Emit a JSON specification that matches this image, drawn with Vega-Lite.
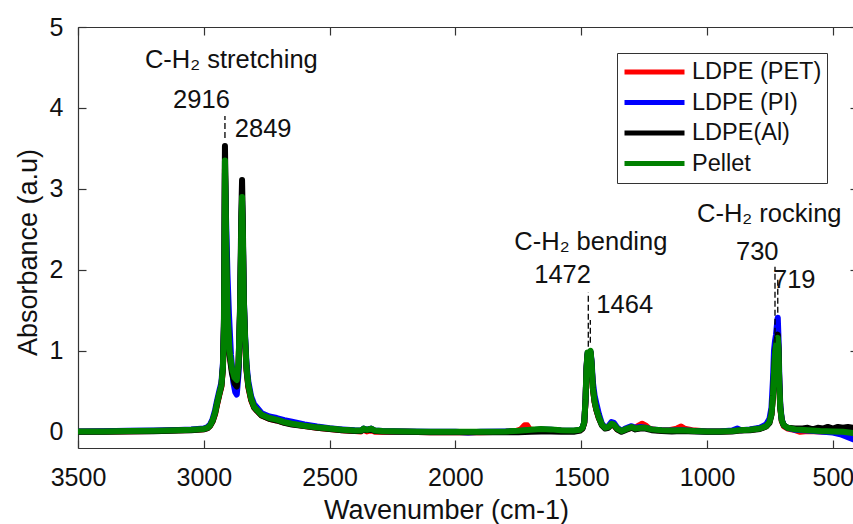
{
  "$schema": "https://vega.github.io/schema/vega-lite/v6.json",
  "width": 775,
  "height": 421,
  "autosize": {"type": "none"},
  "padding": {"left": 78, "top": 27, "right": 0, "bottom": 76},
  "background": "white",
  "config": {
    "view": {"stroke": null},
    "font": "Liberation Sans",
    "axis": {
      "grid": false,
      "domainColor": "#333333",
      "domainWidth": 1.2,
      "tickColor": "#333333",
      "tickWidth": 1.2,
      "labelColor": "#111111",
      "titleColor": "#111111",
      "labelFont": "Liberation Sans",
      "titleFont": "Liberation Sans",
      "titleFontWeight": "normal"
    }
  },
  "datasets": {
    "spectra": [
      {"sample":"LDPE (PET)","wn":3500,"abs":0.0},{"sample":"LDPE (PET)","wn":3400,"abs":0.003},{"sample":"LDPE (PET)","wn":3300,"abs":0.008},{"sample":"LDPE (PET)","wn":3200,"abs":0.01},{"sample":"LDPE (PET)","wn":3100,"abs":0.018},{"sample":"LDPE (PET)","wn":3050,"abs":0.022},{"sample":"LDPE (PET)","wn":3000,"abs":0.032},{"sample":"LDPE (PET)","wn":2985,"abs":0.045},{"sample":"LDPE (PET)","wn":2975,"abs":0.075},{"sample":"LDPE (PET)","wn":2965,"abs":0.13},{"sample":"LDPE (PET)","wn":2955,"abs":0.22},{"sample":"LDPE (PET)","wn":2947,"abs":0.34},{"sample":"LDPE (PET)","wn":2938,"abs":0.46},{"sample":"LDPE (PET)","wn":2930,"abs":0.56},{"sample":"LDPE (PET)","wn":2924,"abs":0.78},{"sample":"LDPE (PET)","wn":2920,"abs":1.25},{"sample":"LDPE (PET)","wn":2918,"abs":2.1},{"sample":"LDPE (PET)","wn":2916,"abs":3.25},{"sample":"LDPE (PET)","wn":2914,"abs":2.9},{"sample":"LDPE (PET)","wn":2911,"abs":2.2},{"sample":"LDPE (PET)","wn":2906,"abs":1.45},{"sample":"LDPE (PET)","wn":2898,"abs":0.97},{"sample":"LDPE (PET)","wn":2888,"abs":0.75},{"sample":"LDPE (PET)","wn":2878,"abs":0.64},{"sample":"LDPE (PET)","wn":2869,"abs":0.6},{"sample":"LDPE (PET)","wn":2862,"abs":0.82},{"sample":"LDPE (PET)","wn":2856,"abs":1.45},{"sample":"LDPE (PET)","wn":2851,"abs":2.4},{"sample":"LDPE (PET)","wn":2848,"abs":2.8},{"sample":"LDPE (PET)","wn":2845,"abs":2.4},{"sample":"LDPE (PET)","wn":2841,"abs":1.55},{"sample":"LDPE (PET)","wn":2836,"abs":1.1},{"sample":"LDPE (PET)","wn":2830,"abs":0.75},{"sample":"LDPE (PET)","wn":2823,"abs":0.55},{"sample":"LDPE (PET)","wn":2812,"abs":0.39},{"sample":"LDPE (PET)","wn":2800,"abs":0.3},{"sample":"LDPE (PET)","wn":2789,"abs":0.26},{"sample":"LDPE (PET)","wn":2770,"abs":0.2},{"sample":"LDPE (PET)","wn":2740,"abs":0.16},{"sample":"LDPE (PET)","wn":2710,"abs":0.14},{"sample":"LDPE (PET)","wn":2680,"abs":0.115},{"sample":"LDPE (PET)","wn":2650,"abs":0.095},{"sample":"LDPE (PET)","wn":2600,"abs":0.07},{"sample":"LDPE (PET)","wn":2550,"abs":0.05},{"sample":"LDPE (PET)","wn":2500,"abs":0.035},{"sample":"LDPE (PET)","wn":2450,"abs":0.02},{"sample":"LDPE (PET)","wn":2400,"abs":0.01},{"sample":"LDPE (PET)","wn":2375,"abs":0.005},{"sample":"LDPE (PET)","wn":2365,"abs":0.03},{"sample":"LDPE (PET)","wn":2352,"abs":0.005},{"sample":"LDPE (PET)","wn":2335,"abs":0.02},{"sample":"LDPE (PET)","wn":2320,"abs":0.0},{"sample":"LDPE (PET)","wn":2290,"abs":0.0},{"sample":"LDPE (PET)","wn":2200,"abs":0.0},{"sample":"LDPE (PET)","wn":2100,"abs":-0.005},{"sample":"LDPE (PET)","wn":2000,"abs":-0.005},{"sample":"LDPE (PET)","wn":1900,"abs":-0.005},{"sample":"LDPE (PET)","wn":1800,"abs":0.0},{"sample":"LDPE (PET)","wn":1760,"abs":0.01},{"sample":"LDPE (PET)","wn":1740,"abs":0.03},{"sample":"LDPE (PET)","wn":1725,"abs":0.08},{"sample":"LDPE (PET)","wn":1715,"abs":0.08},{"sample":"LDPE (PET)","wn":1705,"abs":0.03},{"sample":"LDPE (PET)","wn":1680,"abs":0.02},{"sample":"LDPE (PET)","wn":1640,"abs":0.02},{"sample":"LDPE (PET)","wn":1600,"abs":0.015},{"sample":"LDPE (PET)","wn":1560,"abs":0.01},{"sample":"LDPE (PET)","wn":1530,"abs":0.01},{"sample":"LDPE (PET)","wn":1505,"abs":0.02},{"sample":"LDPE (PET)","wn":1495,"abs":0.045},{"sample":"LDPE (PET)","wn":1488,"abs":0.11},{"sample":"LDPE (PET)","wn":1483,"abs":0.38},{"sample":"LDPE (PET)","wn":1479,"abs":0.78},{"sample":"LDPE (PET)","wn":1475,"abs":0.96},{"sample":"LDPE (PET)","wn":1471,"abs":0.95},{"sample":"LDPE (PET)","wn":1467,"abs":0.96},{"sample":"LDPE (PET)","wn":1463,"abs":0.98},{"sample":"LDPE (PET)","wn":1459,"abs":0.84},{"sample":"LDPE (PET)","wn":1454,"abs":0.54},{"sample":"LDPE (PET)","wn":1447,"abs":0.37},{"sample":"LDPE (PET)","wn":1440,"abs":0.27},{"sample":"LDPE (PET)","wn":1430,"abs":0.17},{"sample":"LDPE (PET)","wn":1418,"abs":0.09},{"sample":"LDPE (PET)","wn":1405,"abs":0.05},{"sample":"LDPE (PET)","wn":1392,"abs":0.06},{"sample":"LDPE (PET)","wn":1380,"abs":0.09},{"sample":"LDPE (PET)","wn":1370,"abs":0.08},{"sample":"LDPE (PET)","wn":1357,"abs":0.03},{"sample":"LDPE (PET)","wn":1340,"abs":0.01},{"sample":"LDPE (PET)","wn":1325,"abs":0.03},{"sample":"LDPE (PET)","wn":1300,"abs":0.05},{"sample":"LDPE (PET)","wn":1285,"abs":0.05},{"sample":"LDPE (PET)","wn":1270,"abs":0.08},{"sample":"LDPE (PET)","wn":1258,"abs":0.1},{"sample":"LDPE (PET)","wn":1245,"abs":0.08},{"sample":"LDPE (PET)","wn":1230,"abs":0.04},{"sample":"LDPE (PET)","wn":1200,"abs":0.02},{"sample":"LDPE (PET)","wn":1150,"abs":0.02},{"sample":"LDPE (PET)","wn":1120,"abs":0.04},{"sample":"LDPE (PET)","wn":1103,"abs":0.065},{"sample":"LDPE (PET)","wn":1090,"abs":0.04},{"sample":"LDPE (PET)","wn":1060,"abs":0.02},{"sample":"LDPE (PET)","wn":1000,"abs":0.005},{"sample":"LDPE (PET)","wn":950,"abs":0.005},{"sample":"LDPE (PET)","wn":900,"abs":0.01},{"sample":"LDPE (PET)","wn":870,"abs":0.02},{"sample":"LDPE (PET)","wn":830,"abs":0.025},{"sample":"LDPE (PET)","wn":790,"abs":0.04},{"sample":"LDPE (PET)","wn":765,"abs":0.07},{"sample":"LDPE (PET)","wn":752,"abs":0.12},{"sample":"LDPE (PET)","wn":744,"abs":0.22},{"sample":"LDPE (PET)","wn":738,"abs":0.45},{"sample":"LDPE (PET)","wn":733,"abs":0.8},{"sample":"LDPE (PET)","wn":729,"abs":1.0},{"sample":"LDPE (PET)","wn":724,"abs":1.1},{"sample":"LDPE (PET)","wn":719,"abs":1.15},{"sample":"LDPE (PET)","wn":716,"abs":0.98},{"sample":"LDPE (PET)","wn":713,"abs":0.58},{"sample":"LDPE (PET)","wn":709,"abs":0.29},{"sample":"LDPE (PET)","wn":703,"abs":0.13},{"sample":"LDPE (PET)","wn":695,"abs":0.07},{"sample":"LDPE (PET)","wn":680,"abs":0.04},{"sample":"LDPE (PET)","wn":650,"abs":0.02},{"sample":"LDPE (PET)","wn":630,"abs":0.0},{"sample":"LDPE (PET)","wn":600,"abs":0.01},{"sample":"LDPE (PET)","wn":550,"abs":0.005},{"sample":"LDPE (PET)","wn":500,"abs":0.0},{"sample":"LDPE (PET)","wn":460,"abs":-0.01},{"sample":"LDPE (PET)","wn":420,"abs":-0.02},

      {"sample":"LDPE (PI)","wn":3500,"abs":0.005},{"sample":"LDPE (PI)","wn":3400,"abs":0.008},{"sample":"LDPE (PI)","wn":3300,"abs":0.012},{"sample":"LDPE (PI)","wn":3200,"abs":0.015},{"sample":"LDPE (PI)","wn":3100,"abs":0.022},{"sample":"LDPE (PI)","wn":3050,"abs":0.028},{"sample":"LDPE (PI)","wn":3000,"abs":0.04},{"sample":"LDPE (PI)","wn":2985,"abs":0.06},{"sample":"LDPE (PI)","wn":2975,"abs":0.09},{"sample":"LDPE (PI)","wn":2965,"abs":0.16},{"sample":"LDPE (PI)","wn":2955,"abs":0.27},{"sample":"LDPE (PI)","wn":2947,"abs":0.39},{"sample":"LDPE (PI)","wn":2938,"abs":0.51},{"sample":"LDPE (PI)","wn":2930,"abs":0.61},{"sample":"LDPE (PI)","wn":2924,"abs":0.85},{"sample":"LDPE (PI)","wn":2920,"abs":1.3},{"sample":"LDPE (PI)","wn":2918,"abs":2.1},{"sample":"LDPE (PI)","wn":2916,"abs":3.2},{"sample":"LDPE (PI)","wn":2914,"abs":2.95},{"sample":"LDPE (PI)","wn":2911,"abs":2.55},{"sample":"LDPE (PI)","wn":2906,"abs":1.95},{"sample":"LDPE (PI)","wn":2900,"abs":1.45},{"sample":"LDPE (PI)","wn":2892,"abs":0.95},{"sample":"LDPE (PI)","wn":2883,"abs":0.62},{"sample":"LDPE (PI)","wn":2875,"abs":0.49},{"sample":"LDPE (PI)","wn":2869,"abs":0.46},{"sample":"LDPE (PI)","wn":2862,"abs":0.72},{"sample":"LDPE (PI)","wn":2856,"abs":1.45},{"sample":"LDPE (PI)","wn":2851,"abs":2.45},{"sample":"LDPE (PI)","wn":2848,"abs":2.85},{"sample":"LDPE (PI)","wn":2845,"abs":2.45},{"sample":"LDPE (PI)","wn":2841,"abs":1.65},{"sample":"LDPE (PI)","wn":2836,"abs":1.2},{"sample":"LDPE (PI)","wn":2830,"abs":0.82},{"sample":"LDPE (PI)","wn":2823,"abs":0.62},{"sample":"LDPE (PI)","wn":2812,"abs":0.44},{"sample":"LDPE (PI)","wn":2800,"abs":0.34},{"sample":"LDPE (PI)","wn":2789,"abs":0.3},{"sample":"LDPE (PI)","wn":2770,"abs":0.23},{"sample":"LDPE (PI)","wn":2740,"abs":0.19},{"sample":"LDPE (PI)","wn":2710,"abs":0.17},{"sample":"LDPE (PI)","wn":2680,"abs":0.145},{"sample":"LDPE (PI)","wn":2650,"abs":0.125},{"sample":"LDPE (PI)","wn":2600,"abs":0.09},{"sample":"LDPE (PI)","wn":2550,"abs":0.065},{"sample":"LDPE (PI)","wn":2500,"abs":0.045},{"sample":"LDPE (PI)","wn":2450,"abs":0.03},{"sample":"LDPE (PI)","wn":2400,"abs":0.018},{"sample":"LDPE (PI)","wn":2375,"abs":0.015},{"sample":"LDPE (PI)","wn":2365,"abs":0.04},{"sample":"LDPE (PI)","wn":2352,"abs":0.025},{"sample":"LDPE (PI)","wn":2335,"abs":0.04},{"sample":"LDPE (PI)","wn":2320,"abs":0.015},{"sample":"LDPE (PI)","wn":2290,"abs":0.01},{"sample":"LDPE (PI)","wn":2200,"abs":0.005},{"sample":"LDPE (PI)","wn":2100,"abs":0.0},{"sample":"LDPE (PI)","wn":2000,"abs":0.0},{"sample":"LDPE (PI)","wn":1950,"abs":-0.01},{"sample":"LDPE (PI)","wn":1900,"abs":0.0},{"sample":"LDPE (PI)","wn":1800,"abs":0.005},{"sample":"LDPE (PI)","wn":1750,"abs":0.01},{"sample":"LDPE (PI)","wn":1700,"abs":0.02},{"sample":"LDPE (PI)","wn":1660,"abs":0.03},{"sample":"LDPE (PI)","wn":1620,"abs":0.025},{"sample":"LDPE (PI)","wn":1580,"abs":0.015},{"sample":"LDPE (PI)","wn":1530,"abs":0.012},{"sample":"LDPE (PI)","wn":1505,"abs":0.025},{"sample":"LDPE (PI)","wn":1495,"abs":0.05},{"sample":"LDPE (PI)","wn":1488,"abs":0.12},{"sample":"LDPE (PI)","wn":1483,"abs":0.4},{"sample":"LDPE (PI)","wn":1479,"abs":0.8},{"sample":"LDPE (PI)","wn":1475,"abs":0.97},{"sample":"LDPE (PI)","wn":1471,"abs":0.95},{"sample":"LDPE (PI)","wn":1467,"abs":0.96},{"sample":"LDPE (PI)","wn":1463,"abs":0.99},{"sample":"LDPE (PI)","wn":1459,"abs":0.88},{"sample":"LDPE (PI)","wn":1454,"abs":0.62},{"sample":"LDPE (PI)","wn":1447,"abs":0.45},{"sample":"LDPE (PI)","wn":1440,"abs":0.35},{"sample":"LDPE (PI)","wn":1430,"abs":0.22},{"sample":"LDPE (PI)","wn":1418,"abs":0.1},{"sample":"LDPE (PI)","wn":1405,"abs":0.05},{"sample":"LDPE (PI)","wn":1392,"abs":0.07},{"sample":"LDPE (PI)","wn":1380,"abs":0.12},{"sample":"LDPE (PI)","wn":1370,"abs":0.11},{"sample":"LDPE (PI)","wn":1357,"abs":0.05},{"sample":"LDPE (PI)","wn":1340,"abs":0.01},{"sample":"LDPE (PI)","wn":1325,"abs":0.04},{"sample":"LDPE (PI)","wn":1300,"abs":0.07},{"sample":"LDPE (PI)","wn":1285,"abs":0.05},{"sample":"LDPE (PI)","wn":1265,"abs":0.06},{"sample":"LDPE (PI)","wn":1245,"abs":0.05},{"sample":"LDPE (PI)","wn":1220,"abs":0.03},{"sample":"LDPE (PI)","wn":1180,"abs":0.02},{"sample":"LDPE (PI)","wn":1140,"abs":0.015},{"sample":"LDPE (PI)","wn":1100,"abs":0.02},{"sample":"LDPE (PI)","wn":1050,"abs":0.01},{"sample":"LDPE (PI)","wn":1000,"abs":0.005},{"sample":"LDPE (PI)","wn":950,"abs":0.005},{"sample":"LDPE (PI)","wn":900,"abs":0.015},{"sample":"LDPE (PI)","wn":880,"abs":0.04},{"sample":"LDPE (PI)","wn":865,"abs":0.02},{"sample":"LDPE (PI)","wn":830,"abs":0.03},{"sample":"LDPE (PI)","wn":790,"abs":0.05},{"sample":"LDPE (PI)","wn":765,"abs":0.09},{"sample":"LDPE (PI)","wn":752,"abs":0.16},{"sample":"LDPE (PI)","wn":744,"abs":0.3},{"sample":"LDPE (PI)","wn":738,"abs":0.65},{"sample":"LDPE (PI)","wn":734,"abs":1.0},{"sample":"LDPE (PI)","wn":730,"abs":1.12},{"sample":"LDPE (PI)","wn":726,"abs":1.2},{"sample":"LDPE (PI)","wn":722,"abs":1.33},{"sample":"LDPE (PI)","wn":719,"abs":1.41},{"sample":"LDPE (PI)","wn":716,"abs":1.15},{"sample":"LDPE (PI)","wn":713,"abs":0.7},{"sample":"LDPE (PI)","wn":709,"abs":0.33},{"sample":"LDPE (PI)","wn":703,"abs":0.15},{"sample":"LDPE (PI)","wn":695,"abs":0.08},{"sample":"LDPE (PI)","wn":680,"abs":0.05},{"sample":"LDPE (PI)","wn":650,"abs":0.025},{"sample":"LDPE (PI)","wn":600,"abs":0.015},{"sample":"LDPE (PI)","wn":550,"abs":0.005},{"sample":"LDPE (PI)","wn":500,"abs":-0.01},{"sample":"LDPE (PI)","wn":470,"abs":-0.03},{"sample":"LDPE (PI)","wn":445,"abs":-0.06},{"sample":"LDPE (PI)","wn":420,"abs":-0.09},

      {"sample":"LDPE(Al)","wn":3500,"abs":0.0},{"sample":"LDPE(Al)","wn":3400,"abs":0.0},{"sample":"LDPE(Al)","wn":3300,"abs":0.005},{"sample":"LDPE(Al)","wn":3200,"abs":0.008},{"sample":"LDPE(Al)","wn":3100,"abs":0.015},{"sample":"LDPE(Al)","wn":3050,"abs":0.02},{"sample":"LDPE(Al)","wn":3000,"abs":0.03},{"sample":"LDPE(Al)","wn":2985,"abs":0.045},{"sample":"LDPE(Al)","wn":2975,"abs":0.075},{"sample":"LDPE(Al)","wn":2965,"abs":0.13},{"sample":"LDPE(Al)","wn":2955,"abs":0.23},{"sample":"LDPE(Al)","wn":2947,"abs":0.35},{"sample":"LDPE(Al)","wn":2938,"abs":0.47},{"sample":"LDPE(Al)","wn":2930,"abs":0.57},{"sample":"LDPE(Al)","wn":2924,"abs":0.8},{"sample":"LDPE(Al)","wn":2920,"abs":1.4},{"sample":"LDPE(Al)","wn":2918,"abs":2.4},{"sample":"LDPE(Al)","wn":2916,"abs":3.53},{"sample":"LDPE(Al)","wn":2914,"abs":3.1},{"sample":"LDPE(Al)","wn":2911,"abs":2.3},{"sample":"LDPE(Al)","wn":2906,"abs":1.45},{"sample":"LDPE(Al)","wn":2898,"abs":0.95},{"sample":"LDPE(Al)","wn":2888,"abs":0.72},{"sample":"LDPE(Al)","wn":2878,"abs":0.6},{"sample":"LDPE(Al)","wn":2869,"abs":0.56},{"sample":"LDPE(Al)","wn":2862,"abs":0.8},{"sample":"LDPE(Al)","wn":2856,"abs":1.55},{"sample":"LDPE(Al)","wn":2851,"abs":2.7},{"sample":"LDPE(Al)","wn":2848,"abs":3.11},{"sample":"LDPE(Al)","wn":2845,"abs":2.6},{"sample":"LDPE(Al)","wn":2841,"abs":1.65},{"sample":"LDPE(Al)","wn":2836,"abs":1.15},{"sample":"LDPE(Al)","wn":2830,"abs":0.76},{"sample":"LDPE(Al)","wn":2823,"abs":0.56},{"sample":"LDPE(Al)","wn":2812,"abs":0.4},{"sample":"LDPE(Al)","wn":2800,"abs":0.3},{"sample":"LDPE(Al)","wn":2789,"abs":0.26},{"sample":"LDPE(Al)","wn":2770,"abs":0.2},{"sample":"LDPE(Al)","wn":2740,"abs":0.16},{"sample":"LDPE(Al)","wn":2710,"abs":0.14},{"sample":"LDPE(Al)","wn":2680,"abs":0.11},{"sample":"LDPE(Al)","wn":2650,"abs":0.09},{"sample":"LDPE(Al)","wn":2600,"abs":0.07},{"sample":"LDPE(Al)","wn":2550,"abs":0.05},{"sample":"LDPE(Al)","wn":2500,"abs":0.035},{"sample":"LDPE(Al)","wn":2450,"abs":0.02},{"sample":"LDPE(Al)","wn":2400,"abs":0.01},{"sample":"LDPE(Al)","wn":2375,"abs":0.01},{"sample":"LDPE(Al)","wn":2365,"abs":0.035},{"sample":"LDPE(Al)","wn":2352,"abs":0.02},{"sample":"LDPE(Al)","wn":2335,"abs":0.035},{"sample":"LDPE(Al)","wn":2320,"abs":0.01},{"sample":"LDPE(Al)","wn":2290,"abs":0.005},{"sample":"LDPE(Al)","wn":2200,"abs":0.0},{"sample":"LDPE(Al)","wn":2100,"abs":-0.005},{"sample":"LDPE(Al)","wn":2000,"abs":-0.005},{"sample":"LDPE(Al)","wn":1900,"abs":-0.005},{"sample":"LDPE(Al)","wn":1800,"abs":-0.005},{"sample":"LDPE(Al)","wn":1750,"abs":-0.005},{"sample":"LDPE(Al)","wn":1700,"abs":0.0},{"sample":"LDPE(Al)","wn":1660,"abs":0.005},{"sample":"LDPE(Al)","wn":1620,"abs":0.005},{"sample":"LDPE(Al)","wn":1580,"abs":0.0},{"sample":"LDPE(Al)","wn":1530,"abs":0.0},{"sample":"LDPE(Al)","wn":1505,"abs":0.015},{"sample":"LDPE(Al)","wn":1495,"abs":0.04},{"sample":"LDPE(Al)","wn":1488,"abs":0.11},{"sample":"LDPE(Al)","wn":1483,"abs":0.38},{"sample":"LDPE(Al)","wn":1479,"abs":0.78},{"sample":"LDPE(Al)","wn":1475,"abs":0.95},{"sample":"LDPE(Al)","wn":1471,"abs":0.94},{"sample":"LDPE(Al)","wn":1467,"abs":0.95},{"sample":"LDPE(Al)","wn":1463,"abs":0.98},{"sample":"LDPE(Al)","wn":1459,"abs":0.83},{"sample":"LDPE(Al)","wn":1454,"abs":0.54},{"sample":"LDPE(Al)","wn":1447,"abs":0.37},{"sample":"LDPE(Al)","wn":1440,"abs":0.27},{"sample":"LDPE(Al)","wn":1430,"abs":0.17},{"sample":"LDPE(Al)","wn":1418,"abs":0.08},{"sample":"LDPE(Al)","wn":1405,"abs":0.04},{"sample":"LDPE(Al)","wn":1392,"abs":0.05},{"sample":"LDPE(Al)","wn":1380,"abs":0.09},{"sample":"LDPE(Al)","wn":1370,"abs":0.08},{"sample":"LDPE(Al)","wn":1357,"abs":0.03},{"sample":"LDPE(Al)","wn":1340,"abs":0.0},{"sample":"LDPE(Al)","wn":1325,"abs":0.02},{"sample":"LDPE(Al)","wn":1300,"abs":0.05},{"sample":"LDPE(Al)","wn":1285,"abs":0.03},{"sample":"LDPE(Al)","wn":1265,"abs":0.04},{"sample":"LDPE(Al)","wn":1245,"abs":0.04},{"sample":"LDPE(Al)","wn":1220,"abs":0.02},{"sample":"LDPE(Al)","wn":1180,"abs":0.01},{"sample":"LDPE(Al)","wn":1140,"abs":0.005},{"sample":"LDPE(Al)","wn":1100,"abs":0.01},{"sample":"LDPE(Al)","wn":1050,"abs":0.005},{"sample":"LDPE(Al)","wn":1000,"abs":0.0},{"sample":"LDPE(Al)","wn":950,"abs":0.0},{"sample":"LDPE(Al)","wn":900,"abs":0.005},{"sample":"LDPE(Al)","wn":870,"abs":0.015},{"sample":"LDPE(Al)","wn":830,"abs":0.02},{"sample":"LDPE(Al)","wn":790,"abs":0.035},{"sample":"LDPE(Al)","wn":765,"abs":0.065},{"sample":"LDPE(Al)","wn":752,"abs":0.11},{"sample":"LDPE(Al)","wn":744,"abs":0.21},{"sample":"LDPE(Al)","wn":738,"abs":0.44},{"sample":"LDPE(Al)","wn":733,"abs":0.8},{"sample":"LDPE(Al)","wn":729,"abs":1.0},{"sample":"LDPE(Al)","wn":724,"abs":1.12},{"sample":"LDPE(Al)","wn":719,"abs":1.2},{"sample":"LDPE(Al)","wn":716,"abs":1.02},{"sample":"LDPE(Al)","wn":713,"abs":0.6},{"sample":"LDPE(Al)","wn":709,"abs":0.3},{"sample":"LDPE(Al)","wn":703,"abs":0.14},{"sample":"LDPE(Al)","wn":695,"abs":0.08},{"sample":"LDPE(Al)","wn":680,"abs":0.05},{"sample":"LDPE(Al)","wn":650,"abs":0.04},{"sample":"LDPE(Al)","wn":620,"abs":0.04},{"sample":"LDPE(Al)","wn":600,"abs":0.05},{"sample":"LDPE(Al)","wn":580,"abs":0.03},{"sample":"LDPE(Al)","wn":560,"abs":0.05},{"sample":"LDPE(Al)","wn":540,"abs":0.04},{"sample":"LDPE(Al)","wn":520,"abs":0.06},{"sample":"LDPE(Al)","wn":500,"abs":0.04},{"sample":"LDPE(Al)","wn":480,"abs":0.06},{"sample":"LDPE(Al)","wn":460,"abs":0.05},{"sample":"LDPE(Al)","wn":440,"abs":0.06},{"sample":"LDPE(Al)","wn":420,"abs":0.05},

      {"sample":"Pellet","wn":3500,"abs":0.005},{"sample":"Pellet","wn":3400,"abs":0.005},{"sample":"Pellet","wn":3300,"abs":0.01},{"sample":"Pellet","wn":3200,"abs":0.012},{"sample":"Pellet","wn":3100,"abs":0.02},{"sample":"Pellet","wn":3050,"abs":0.025},{"sample":"Pellet","wn":3000,"abs":0.035},{"sample":"Pellet","wn":2985,"abs":0.05},{"sample":"Pellet","wn":2975,"abs":0.08},{"sample":"Pellet","wn":2965,"abs":0.14},{"sample":"Pellet","wn":2955,"abs":0.24},{"sample":"Pellet","wn":2947,"abs":0.36},{"sample":"Pellet","wn":2938,"abs":0.48},{"sample":"Pellet","wn":2930,"abs":0.58},{"sample":"Pellet","wn":2924,"abs":0.8},{"sample":"Pellet","wn":2920,"abs":1.3},{"sample":"Pellet","wn":2918,"abs":2.2},{"sample":"Pellet","wn":2916,"abs":3.35},{"sample":"Pellet","wn":2914,"abs":3.0},{"sample":"Pellet","wn":2911,"abs":2.3},{"sample":"Pellet","wn":2906,"abs":1.5},{"sample":"Pellet","wn":2898,"abs":1.0},{"sample":"Pellet","wn":2888,"abs":0.78},{"sample":"Pellet","wn":2878,"abs":0.67},{"sample":"Pellet","wn":2869,"abs":0.64},{"sample":"Pellet","wn":2862,"abs":0.85},{"sample":"Pellet","wn":2856,"abs":1.5},{"sample":"Pellet","wn":2851,"abs":2.5},{"sample":"Pellet","wn":2848,"abs":2.9},{"sample":"Pellet","wn":2845,"abs":2.45},{"sample":"Pellet","wn":2841,"abs":1.6},{"sample":"Pellet","wn":2836,"abs":1.15},{"sample":"Pellet","wn":2830,"abs":0.78},{"sample":"Pellet","wn":2823,"abs":0.58},{"sample":"Pellet","wn":2812,"abs":0.41},{"sample":"Pellet","wn":2800,"abs":0.31},{"sample":"Pellet","wn":2789,"abs":0.27},{"sample":"Pellet","wn":2770,"abs":0.21},{"sample":"Pellet","wn":2740,"abs":0.17},{"sample":"Pellet","wn":2710,"abs":0.15},{"sample":"Pellet","wn":2680,"abs":0.12},{"sample":"Pellet","wn":2650,"abs":0.1},{"sample":"Pellet","wn":2600,"abs":0.075},{"sample":"Pellet","wn":2550,"abs":0.055},{"sample":"Pellet","wn":2500,"abs":0.04},{"sample":"Pellet","wn":2450,"abs":0.025},{"sample":"Pellet","wn":2400,"abs":0.015},{"sample":"Pellet","wn":2375,"abs":0.015},{"sample":"Pellet","wn":2365,"abs":0.04},{"sample":"Pellet","wn":2352,"abs":0.025},{"sample":"Pellet","wn":2335,"abs":0.04},{"sample":"Pellet","wn":2320,"abs":0.015},{"sample":"Pellet","wn":2290,"abs":0.01},{"sample":"Pellet","wn":2200,"abs":0.005},{"sample":"Pellet","wn":2100,"abs":0.0},{"sample":"Pellet","wn":2000,"abs":0.0},{"sample":"Pellet","wn":1900,"abs":0.0},{"sample":"Pellet","wn":1800,"abs":0.005},{"sample":"Pellet","wn":1750,"abs":0.012},{"sample":"Pellet","wn":1700,"abs":0.025},{"sample":"Pellet","wn":1660,"abs":0.035},{"sample":"Pellet","wn":1620,"abs":0.03},{"sample":"Pellet","wn":1580,"abs":0.02},{"sample":"Pellet","wn":1530,"abs":0.015},{"sample":"Pellet","wn":1505,"abs":0.025},{"sample":"Pellet","wn":1495,"abs":0.05},{"sample":"Pellet","wn":1488,"abs":0.12},{"sample":"Pellet","wn":1483,"abs":0.4},{"sample":"Pellet","wn":1479,"abs":0.8},{"sample":"Pellet","wn":1475,"abs":0.98},{"sample":"Pellet","wn":1471,"abs":0.96},{"sample":"Pellet","wn":1467,"abs":0.97},{"sample":"Pellet","wn":1463,"abs":1.0},{"sample":"Pellet","wn":1459,"abs":0.85},{"sample":"Pellet","wn":1454,"abs":0.55},{"sample":"Pellet","wn":1447,"abs":0.38},{"sample":"Pellet","wn":1440,"abs":0.28},{"sample":"Pellet","wn":1430,"abs":0.18},{"sample":"Pellet","wn":1418,"abs":0.09},{"sample":"Pellet","wn":1405,"abs":0.05},{"sample":"Pellet","wn":1392,"abs":0.06},{"sample":"Pellet","wn":1380,"abs":0.1},{"sample":"Pellet","wn":1370,"abs":0.09},{"sample":"Pellet","wn":1357,"abs":0.04},{"sample":"Pellet","wn":1340,"abs":0.01},{"sample":"Pellet","wn":1325,"abs":0.03},{"sample":"Pellet","wn":1300,"abs":0.06},{"sample":"Pellet","wn":1285,"abs":0.04},{"sample":"Pellet","wn":1265,"abs":0.05},{"sample":"Pellet","wn":1245,"abs":0.05},{"sample":"Pellet","wn":1220,"abs":0.03},{"sample":"Pellet","wn":1180,"abs":0.02},{"sample":"Pellet","wn":1140,"abs":0.015},{"sample":"Pellet","wn":1100,"abs":0.02},{"sample":"Pellet","wn":1050,"abs":0.01},{"sample":"Pellet","wn":1000,"abs":0.005},{"sample":"Pellet","wn":950,"abs":0.005},{"sample":"Pellet","wn":900,"abs":0.01},{"sample":"Pellet","wn":870,"abs":0.02},{"sample":"Pellet","wn":830,"abs":0.025},{"sample":"Pellet","wn":790,"abs":0.04},{"sample":"Pellet","wn":765,"abs":0.07},{"sample":"Pellet","wn":752,"abs":0.12},{"sample":"Pellet","wn":744,"abs":0.22},{"sample":"Pellet","wn":738,"abs":0.45},{"sample":"Pellet","wn":733,"abs":0.8},{"sample":"Pellet","wn":729,"abs":1.0},{"sample":"Pellet","wn":724,"abs":1.1},{"sample":"Pellet","wn":719,"abs":1.16},{"sample":"Pellet","wn":716,"abs":1.0},{"sample":"Pellet","wn":713,"abs":0.6},{"sample":"Pellet","wn":709,"abs":0.3},{"sample":"Pellet","wn":703,"abs":0.14},{"sample":"Pellet","wn":695,"abs":0.08},{"sample":"Pellet","wn":680,"abs":0.05},{"sample":"Pellet","wn":650,"abs":0.03},{"sample":"Pellet","wn":600,"abs":0.02},{"sample":"Pellet","wn":550,"abs":0.01},{"sample":"Pellet","wn":500,"abs":0.005},{"sample":"Pellet","wn":460,"abs":0.0},{"sample":"Pellet","wn":420,"abs":-0.015}
    ],
    "peaks": [
      {"wn": 2916, "from": 3.63, "to": 3.9},
      {"wn": 1472, "from": 1.05, "to": 1.72},
      {"wn": 1464, "from": 1.1, "to": 1.38},
      {"wn": 730, "from": 1.1, "to": 2.04},
      {"wn": 719, "from": 1.47, "to": 1.9}
    ],
    "labels": [
      {"label": "C-H₂ stretching", "wn": 3234, "abs": 4.49},
      {"label": "2916", "wn": 3122, "abs": 4.0},
      {"label": "2849", "wn": 2877, "abs": 3.64},
      {"label": "C-H₂ bending", "wn": 1766, "abs": 2.25},
      {"label": "1472", "wn": 1687, "abs": 1.84},
      {"label": "1464", "wn": 1440, "abs": 1.47},
      {"label": "C-H₂ rocking", "wn": 1040, "abs": 2.59},
      {"label": "730", "wn": 885, "abs": 2.12},
      {"label": "719", "wn": 738, "abs": 1.78}
    ]
  },
  "layer": [
    {
      "data": {"name": "spectra"},
      "mark": {"type": "line", "strokeWidth": 6, "strokeJoin": "round", "strokeCap": "round", "clip": true},
      "encoding": {
        "x": {
          "field": "wn", "type": "quantitative",
          "scale": {"domain": [3500, 420], "nice": false, "zero": false},
          "axis": {
            "orient": "bottom",
            "values": [3500, 3000, 2500, 2000, 1500, 1000, 500],
            "format": "d",
            "tickSize": -8,
            "labelPadding": 25,
            "labelBaseline": "top",
            "labelFontSize": 25,
            "labelFlush": false,
            "labelDx": -4,
            "title": "Wavenumber (cm-1)",
            "titleFontSize": 27,
            "titleX": 368,
            "titleY": 70,
            "titleAlign": "center",
            "titleBaseline": "alphabetic"
          }
        },
        "y": {
          "field": "abs", "type": "quantitative",
          "scale": {"domain": [-0.2, 5], "nice": false, "zero": false},
          "axis": {
            "orient": "left",
            "values": [0, 1, 2, 3, 4, 5],
            "tickSize": -8,
            "labelPadding": 23,
            "labelFontSize": 25,
            "labelFlush": false,
            "title": "Absorbance (a.u)",
            "titleFontSize": 27,
            "titleX": -42,
            "titleY": 225,
            "titleAlign": "center",
            "titleBaseline": "alphabetic"
          }
        },
        "color": {
          "field": "sample", "type": "nominal",
          "scale": {
            "domain": ["LDPE (PET)", "LDPE (PI)", "LDPE(Al)", "Pellet"],
            "range": ["#ff0000", "#0000ff", "#000000", "#008000"]
          },
          "legend": {
            "orient": "none",
            "legendX": 539,
            "legendY": 26,
            "title": null,
            "symbolType": "stroke",
            "symbolSize": 3600,
            "symbolStrokeWidth": 5,
            "clipHeight": 28,
            "rowPadding": 2.5,
            "padding": 5,
            "labelOffset": 5,
            "labelFontSize": 23.5,
            "labelFont": "Liberation Sans",
            "labelColor": "#111111",
            "labelLimit": 300,
            "strokeColor": "#333333",
            "fillColor": "white"
          }
        }
      }
    },
    {
      "data": {"name": "peaks"},
      "mark": {"type": "rule", "color": "black", "strokeWidth": 1.3, "strokeDash": [6, 3]},
      "encoding": {
        "x": {
          "field": "wn", "type": "quantitative",
          "axis": {"orient": "top", "values": [3500, 3000, 2500, 2000, 1500, 1000, 500], "tickSize": -8, "labels": false, "title": null}
        },
        "y": {
          "field": "from", "type": "quantitative",
          "axis": {"orient": "right", "values": [0, 1, 2, 3, 4, 5], "tickSize": -8, "labels": false, "title": null, "offset": 5}
        },
        "y2": {"field": "to"}
      }
    },
    {
      "data": {"name": "labels"},
      "mark": {"type": "text", "align": "left", "baseline": "alphabetic", "fontSize": 25.5, "font": "Liberation Sans", "color": "#111111"},
      "encoding": {
        "x": {"field": "wn", "type": "quantitative", "axis": null},
        "y": {"field": "abs", "type": "quantitative", "axis": null},
        "text": {"field": "label"}
      }
    }
  ],
  "resolve": {"axis": {"x": "independent", "y": "independent"}}
}
